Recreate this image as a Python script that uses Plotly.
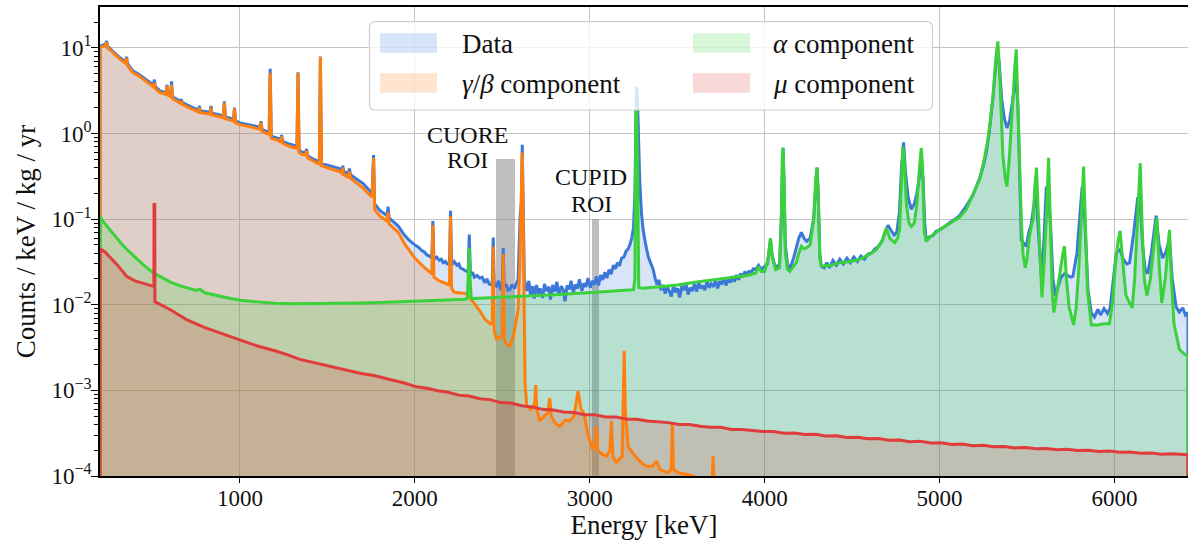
import math
import plotly.graph_objects as go

# ---------------------------------------------------------------------------
# Spectra: (energy [keV], rate [counts / keV / kg / yr])
# ---------------------------------------------------------------------------
data_spectrum = [
    (200, 10.5), (220, 10.8), (232, 11.0), (238, 12.0), (244, 10.4), (257, 9.8), (275, 9.0),
    (295, 8.3), (320, 7.5), (343, 7.0), (348, 6.9), (352, 7.9), (357, 6.6), (370, 6.0),
    (390, 5.35), (415, 5.0), (438, 4.65), (460, 4.3), (486, 3.92), (506, 3.68), (511, 4.26),
    (516, 3.52), (543, 3.15), (577, 3.0), (583, 3.7), (589, 2.93), (604, 2.83), (609, 4.07),
    (614, 2.68), (640, 2.47), (660, 2.37), (665, 2.5), (670, 2.31), (700, 2.15), (730, 2.02),
    (752, 1.92), (763, 1.87), (768, 2.1), (773, 1.84), (800, 1.81), (830, 1.77), (835, 2.1),
    (840, 1.72), (867, 1.68), (905, 1.6), (911, 2.37), (917, 1.56), (940, 1.52), (963, 1.46),
    (969, 2.0), (975, 1.4), (1000, 1.33), (1030, 1.3), (1057, 1.26), (1100, 1.2), (1114, 1.18),
    (1120, 1.39), (1126, 1.12), (1152, 1.06), (1167, 1.03), (1173, 5.68), (1179, 0.93),
    (1210, 0.89), (1232, 0.85), (1238, 0.96), (1244, 0.81), (1267, 0.77), (1290, 0.74),
    (1326, 0.71), (1332, 5.2), (1338, 0.64), (1352, 0.61), (1375, 0.6), (1381, 0.66),
    (1387, 0.55), (1419, 0.5), (1440, 0.48), (1454, 0.47), (1460, 7.9), (1466, 0.45),
    (1495, 0.43), (1530, 0.41), (1571, 0.39), (1583, 0.37), (1588, 0.42), (1593, 0.36),
    (1619, 0.34), (1626, 0.39), (1632, 0.33), (1660, 0.3), (1705, 0.26), (1733, 0.225),
    (1756, 0.2), (1764, 0.56), (1770, 0.15), (1800, 0.126), (1840, 0.11), (1847, 0.14),
    (1853, 0.103), (1880, 0.092), (1905, 0.083), (1940, 0.065), (1970, 0.056), (2000, 0.05),
    (2020, 0.047), (2040, 0.043), (2055, 0.041), (2070, 0.038), (2085, 0.037), (2097, 0.035),
    (2103, 0.095), (2109, 0.034), (2125, 0.036), (2140, 0.033), (2152, 0.034), (2162, 0.031),
    (2175, 0.032), (2185, 0.03), (2198, 0.03), (2204, 0.125), (2210, 0.029), (2225, 0.032),
    (2240, 0.029), (2252, 0.03), (2260, 0.027), (2275, 0.026), (2290, 0.025), (2305, 0.024),
    (2311, 0.066), (2318, 0.022), (2330, 0.024), (2340, 0.021), (2355, 0.022), (2371, 0.0205),
    (2385, 0.021), (2400, 0.018), (2412, 0.02), (2425, 0.0175), (2442, 0.017), (2448, 0.061),
    (2454, 0.017), (2467, 0.0164), (2478, 0.019), (2490, 0.0155), (2499, 0.016), (2505, 0.046),
    (2511, 0.016), (2522, 0.0175), (2532, 0.0148), (2543, 0.015), (2555, 0.0172), (2570, 0.0155),
    (2590, 0.02), (2602, 0.11), (2609, 0.16), (2614, 0.74), (2619, 0.16), (2626, 0.02),
    (2640, 0.0145), (2652, 0.019), (2661, 0.013), (2674, 0.0165), (2683, 0.0118), (2695, 0.017),
    (2707, 0.0135), (2716, 0.0155), (2730, 0.012), (2741, 0.0175), (2752, 0.0145),
    (2766, 0.0162), (2775, 0.0115), (2788, 0.017), (2800, 0.0142), (2812, 0.0185),
    (2823, 0.0128), (2837, 0.0165), (2849, 0.0148), (2858, 0.011), (2870, 0.0168),
    (2884, 0.0152), (2893, 0.019), (2906, 0.0138), (2918, 0.0172), (2930, 0.0155),
    (2941, 0.0198), (2955, 0.0145), (2966, 0.0178), (2978, 0.0162), (2990, 0.0205),
    (3003, 0.0158), (3014, 0.019), (3027, 0.0172), (3038, 0.0215), (3050, 0.0168),
    (3062, 0.0222), (3074, 0.0195), (3086, 0.024), (3098, 0.0205), (3110, 0.0258),
    (3122, 0.0228), (3135, 0.029), (3147, 0.0262), (3158, 0.031), (3170, 0.0285), (3182, 0.035),
    (3195, 0.036), (3207, 0.042), (3220, 0.045), (3229, 0.05), (3240, 0.06), (3250, 0.08),
    (3258, 0.2), (3264, 1.5), (3268, 3.5), (3272, 3.0), (3278, 1.0), (3285, 0.3), (3295, 0.12),
    (3305, 0.075), (3320, 0.05), (3335, 0.036), (3350, 0.03), (3362, 0.026), (3372, 0.021),
    (3384, 0.0172), (3396, 0.0195), (3407, 0.0148), (3420, 0.017), (3431, 0.0135),
    (3444, 0.0162), (3455, 0.0145), (3466, 0.0125), (3479, 0.0168), (3490, 0.014),
    (3503, 0.0155), (3514, 0.0122), (3527, 0.0165), (3538, 0.0148), (3551, 0.0172),
    (3562, 0.0132), (3575, 0.0158), (3587, 0.0145), (3598, 0.0175), (3611, 0.0142),
    (3622, 0.0182), (3635, 0.0155), (3647, 0.0168), (3658, 0.0148), (3671, 0.019),
    (3683, 0.0158), (3694, 0.0175), (3707, 0.0162), (3718, 0.0195), (3731, 0.0155),
    (3743, 0.0188), (3754, 0.0172), (3767, 0.0205), (3779, 0.0168), (3790, 0.0198),
    (3803, 0.0182), (3815, 0.0215), (3826, 0.0185), (3839, 0.0222), (3851, 0.0195),
    (3862, 0.0232), (3875, 0.021), (3887, 0.0245), (3898, 0.0215), (3911, 0.025),
    (3923, 0.0232), (3934, 0.0262), (3950, 0.026), (3965, 0.029), (3980, 0.026), (4000, 0.028),
    (4015, 0.03), (4027, 0.045), (4033, 0.058), (4040, 0.04), (4055, 0.03), (4067, 0.027),
    (4085, 0.03), (4095, 0.1), (4100, 0.5), (4105, 0.68), (4110, 0.3), (4118, 0.05),
    (4130, 0.03), (4143, 0.026), (4165, 0.035), (4180, 0.045), (4195, 0.06), (4210, 0.07),
    (4225, 0.06), (4240, 0.055), (4260, 0.06), (4280, 0.1), (4292, 0.3), (4299, 0.40),
    (4306, 0.2), (4315, 0.04), (4324, 0.028), (4340, 0.027), (4355, 0.031), (4370, 0.027),
    (4390, 0.033), (4410, 0.029), (4429, 0.034), (4450, 0.03), (4470, 0.035), (4490, 0.031),
    (4510, 0.036), (4530, 0.032), (4550, 0.037), (4570, 0.034), (4590, 0.039), (4610, 0.04),
    (4630, 0.045), (4650, 0.048), (4670, 0.055), (4690, 0.07), (4705, 0.085), (4720, 0.075),
    (4740, 0.065), (4755, 0.07), (4770, 0.12), (4782, 0.4), (4794, 0.79), (4805, 0.35),
    (4820, 0.18), (4838, 0.13), (4855, 0.15), (4870, 0.2), (4885, 0.35), (4896, 0.45),
    (4905, 0.3), (4915, 0.09), (4924, 0.055), (4940, 0.062), (4960, 0.064), (4980, 0.072),
    (5000, 0.075), (5030, 0.082), (5060, 0.092), (5090, 0.1), (5114, 0.11), (5150, 0.14),
    (5190, 0.19), (5229, 0.3), (5250, 0.42), (5267, 0.6), (5285, 1.1), (5305, 2.6),
    (5320, 6.0), (5330, 9.6), (5340, 7.0), (5355, 2.5), (5370, 1.5), (5385, 1.16), (5400, 1.4),
    (5415, 2.2), (5428, 3.5), (5438, 4.7), (5448, 2.0), (5458, 0.3), (5467, 0.057),
    (5495, 0.048), (5510, 0.07), (5524, 0.088), (5540, 0.15), (5548, 0.24), (5560, 0.1),
    (5575, 0.03), (5581, 0.022), (5595, 0.05), (5610, 0.24), (5623, 0.2), (5635, 0.08),
    (5648, 0.02), (5663, 0.0127), (5680, 0.017), (5695, 0.021), (5714, 0.023), (5730, 0.022),
    (5750, 0.021), (5762, 0.0215), (5785, 0.04), (5800, 0.1), (5815, 0.24), (5823, 0.2),
    (5835, 0.06), (5848, 0.015), (5867, 0.0081), (5885, 0.0072), (5905, 0.0088), (5920, 0.0076),
    (5940, 0.009), (5960, 0.0079), (5975, 0.0092), (5995, 0.02), (6010, 0.04), (6032, 0.044),
    (6050, 0.034), (6070, 0.03), (6086, 0.031), (6110, 0.07), (6133, 0.18), (6147, 0.15),
    (6160, 0.05), (6175, 0.026), (6190, 0.023), (6210, 0.04), (6238, 0.11), (6255, 0.05),
    (6275, 0.035), (6295, 0.042), (6314, 0.06), (6330, 0.02), (6352, 0.0095), (6370, 0.0082),
    (6390, 0.0092), (6405, 0.0076), (6420, 0.0081),
]

gamma_beta_spectrum = [
    (200, 10.2), (220, 10.4), (232, 10.6), (238, 11.6), (244, 10.0), (257, 9.5), (275, 8.7),
    (295, 8.0), (320, 7.2), (343, 6.7), (348, 6.6), (352, 7.6), (357, 6.3), (370, 5.7),
    (390, 5.1), (415, 4.8), (438, 4.45), (460, 4.1), (486, 3.75), (506, 3.5), (511, 3.9),
    (516, 3.35), (543, 3.0), (577, 2.87), (583, 3.6), (589, 2.8), (604, 2.7), (609, 3.7),
    (614, 2.55), (640, 2.35), (660, 2.25), (665, 2.4), (670, 2.2), (700, 2.05), (730, 1.92),
    (752, 1.82), (763, 1.78), (768, 2.0), (773, 1.75), (800, 1.72), (830, 1.68), (835, 2.0),
    (840, 1.64), (867, 1.6), (905, 1.52), (911, 2.3), (917, 1.48), (940, 1.44), (963, 1.39),
    (969, 1.95), (975, 1.33), (1000, 1.27), (1030, 1.24), (1057, 1.2), (1100, 1.14),
    (1114, 1.12), (1120, 1.35), (1126, 1.06), (1152, 1.0), (1167, 0.98), (1173, 5.1),
    (1179, 0.88), (1210, 0.84), (1232, 0.8), (1238, 0.92), (1244, 0.77), (1267, 0.73),
    (1290, 0.7), (1326, 0.67), (1332, 5.1), (1338, 0.6), (1352, 0.57), (1375, 0.56),
    (1381, 0.63), (1387, 0.52), (1419, 0.47), (1440, 0.45), (1454, 0.44), (1460, 7.8),
    (1466, 0.42), (1495, 0.40), (1530, 0.38), (1571, 0.36), (1583, 0.34), (1588, 0.40),
    (1593, 0.33), (1619, 0.31), (1626, 0.36), (1632, 0.30), (1660, 0.27), (1705, 0.23),
    (1733, 0.2), (1756, 0.18), (1764, 0.52), (1770, 0.13), (1800, 0.108), (1840, 0.095),
    (1847, 0.12), (1853, 0.088), (1880, 0.078), (1905, 0.07), (1940, 0.052), (1970, 0.042),
    (2000, 0.035), (2040, 0.029), (2070, 0.026), (2097, 0.023), (2103, 0.085), (2109, 0.021),
    (2140, 0.019), (2180, 0.0175), (2198, 0.017), (2204, 0.108), (2210, 0.0155), (2225, 0.014),
    (2260, 0.0138), (2295, 0.0135), (2330, 0.011), (2371, 0.0085), (2400, 0.0068),
    (2430, 0.006), (2442, 0.006), (2448, 0.048), (2454, 0.005), (2467, 0.004), (2490, 0.0042),
    (2499, 0.0045), (2505, 0.039), (2511, 0.004), (2525, 0.0034), (2543, 0.0033),
    (2565, 0.0045), (2590, 0.0088), (2600, 0.03), (2605, 0.1), (2609, 0.12), (2614, 0.6),
    (2619, 0.12), (2624, 0.01), (2630, 0.0012), (2640, 0.00066), (2660, 0.0006),
    (2685, 0.0007), (2691, 0.00115), (2697, 0.0006), (2714, 0.00044), (2740, 0.0005),
    (2760, 0.00055), (2771, 0.00081), (2780, 0.0005), (2800, 0.00042), (2829, 0.00038),
    (2860, 0.00045), (2886, 0.00044), (2910, 0.0005), (2933, 0.00098), (2950, 0.0006),
    (2965, 0.00055), (2990, 0.0003), (3019, 0.0002), (3030, 0.00025), (3038, 0.00038),
    (3045, 0.0002), (3070, 0.00018), (3095, 0.00017), (3115, 0.0002), (3124, 0.00044),
    (3132, 0.00017), (3152, 0.000145), (3185, 0.00017), (3192, 0.0009), (3197, 0.0029),
    (3203, 0.0006), (3219, 0.00022), (3260, 0.00017), (3300, 0.00014), (3324, 0.00013),
    (3360, 0.00013), (3381, 0.00015), (3400, 0.00012), (3420, 0.000114), (3450, 0.00011),
    (3466, 0.00012), (3472, 0.00042), (3478, 0.00012), (3500, 0.00011), (3550, 0.000105),
    (3590, 0.0001), (3630, 0.00009), (3695, 0.00008), (3700, 0.00009), (3705, 0.00017),
    (3711, 0.00008), (3730, 0.00006), (6420, 0.00003),
]

alpha_spectrum = [
    (200, 0.107), (225, 0.09), (250, 0.078), (275, 0.067), (300, 0.058), (325, 0.051),
    (350, 0.045), (375, 0.04), (400, 0.036), (450, 0.029), (500, 0.024), (550, 0.021),
    (600, 0.0185), (650, 0.0168), (700, 0.0156), (750, 0.0147), (770, 0.0152), (800, 0.0138),
    (900, 0.0124), (1000, 0.0113), (1100, 0.0108), (1200, 0.0104), (1300, 0.0103),
    (1400, 0.0103), (1500, 0.0104), (1600, 0.0104), (1700, 0.0105), (1800, 0.0106),
    (1900, 0.0108), (2000, 0.0109), (2100, 0.011), (2200, 0.0112), (2290, 0.0116),
    (2300, 0.012), (2306, 0.03), (2311, 0.046), (2316, 0.02), (2322, 0.0118), (2400, 0.012),
    (2500, 0.0122), (2600, 0.0125), (2700, 0.0128), (2800, 0.0131), (2900, 0.0134),
    (3000, 0.0138), (3100, 0.0143), (3200, 0.0148), (3250, 0.015), (3258, 0.02), (3263, 1.8),
    (3268, 2.07), (3273, 0.5), (3280, 0.016), (3300, 0.0156), (3400, 0.0162), (3500, 0.017),
    (3600, 0.0183), (3700, 0.0195), (3800, 0.0205), (3900, 0.022), (3950, 0.0235),
    (3965, 0.028), (3980, 0.0245), (4000, 0.0245), (4020, 0.035), (4033, 0.06), (4045, 0.035),
    (4063, 0.0257), (4085, 0.027), (4095, 0.1), (4100, 0.5), (4105, 0.68), (4110, 0.3),
    (4118, 0.04), (4130, 0.026), (4143, 0.0245), (4165, 0.028), (4181, 0.031), (4195, 0.04),
    (4210, 0.048), (4225, 0.045), (4238, 0.046), (4260, 0.05), (4280, 0.1), (4292, 0.3),
    (4299, 0.40), (4306, 0.2), (4315, 0.035), (4324, 0.0282), (4380, 0.029), (4429, 0.031),
    (4490, 0.032), (4543, 0.034), (4600, 0.039), (4638, 0.044), (4670, 0.055), (4695, 0.079),
    (4715, 0.06), (4743, 0.053), (4760, 0.06), (4771, 0.075), (4782, 0.35), (4790, 0.7),
    (4797, 0.5), (4810, 0.15), (4825, 0.09), (4838, 0.082), (4855, 0.09), (4870, 0.15),
    (4885, 0.4), (4895, 0.68), (4903, 0.4), (4912, 0.07), (4924, 0.055), (4950, 0.063),
    (5000, 0.075), (5076, 0.094), (5114, 0.105), (5152, 0.13), (5190, 0.19), (5229, 0.29),
    (5255, 0.5), (5276, 0.85), (5290, 1.4), (5305, 2.7), (5320, 7.0), (5333, 11.9),
    (5345, 4.0), (5362, 0.54), (5375, 0.3), (5385, 0.24), (5398, 0.5), (5410, 1.5),
    (5419, 2.5), (5430, 6.0), (5438, 9.6), (5448, 2.0), (5458, 0.3), (5467, 0.1),
    (5476, 0.04), (5490, 0.027), (5500, 0.035), (5512, 0.06), (5524, 0.082), (5535, 0.1),
    (5545, 0.25), (5554, 0.40), (5562, 0.15), (5572, 0.04), (5585, 0.0122), (5597, 0.03),
    (5610, 0.1), (5623, 0.52), (5633, 0.1), (5643, 0.015), (5653, 0.0081), (5672, 0.015),
    (5690, 0.025), (5705, 0.04), (5714, 0.048), (5725, 0.02), (5740, 0.0095), (5766, 0.0058),
    (5780, 0.009), (5795, 0.025), (5810, 0.1), (5823, 0.41), (5833, 0.1), (5845, 0.015),
    (5867, 0.0058), (5900, 0.0058), (5940, 0.006), (5971, 0.006), (5990, 0.011),
    (6005, 0.03), (6020, 0.055), (6032, 0.073), (6045, 0.035), (6065, 0.013), (6085, 0.0105),
    (6101, 0.0092), (6115, 0.02), (6130, 0.1), (6147, 0.45), (6158, 0.08), (6170, 0.02),
    (6185, 0.0128), (6205, 0.02), (6225, 0.05), (6242, 0.104), (6255, 0.03), (6270, 0.0105),
    (6290, 0.02), (6305, 0.05), (6314, 0.075), (6325, 0.02), (6340, 0.006), (6371, 0.003),
    (6395, 0.0027), (6420, 0.0025),
]

mu_spectrum = [
    (200, 0.045), (230, 0.041), (257, 0.036), (300, 0.029), (352, 0.0215), (400, 0.019),
    (467, 0.0173), (505, 0.0162), (508, 0.0164), (509, 0.148), (513, 0.148), (514, 0.0108),
    (524, 0.0106), (600, 0.0088), (695, 0.0067), (800, 0.0054), (900, 0.0046), (1000, 0.0039),
    (1100, 0.0033), (1200, 0.0029), (1270, 0.00262), (1343, 0.0023), (1420, 0.00212),
    (1514, 0.0019), (1580, 0.00178), (1640, 0.00168), (1700, 0.00156), (1760, 0.0015),
    (1820, 0.0014), (1880, 0.00133), (1940, 0.00122), (2010, 0.0011), (2070, 0.00106),
    (2130, 0.00099), (2190, 0.00095), (2250, 0.00088), (2310, 0.00086), (2370, 0.0008),
    (2430, 0.00078), (2490, 0.00072), (2550, 0.00071), (2610, 0.00066), (2670, 0.00064),
    (2730, 0.0006), (2790, 0.00059), (2850, 0.00056), (2910, 0.00055), (2970, 0.00052),
    (3030, 0.00052), (3090, 0.00049), (3150, 0.00049), (3210, 0.00046), (3270, 0.00046),
    (3330, 0.00044), (3390, 0.00043), (3450, 0.00042), (3510, 0.0004), (3570, 0.0004),
    (3630, 0.00038), (3690, 0.00037), (3750, 0.00037), (3810, 0.00035), (3870, 0.00035),
    (3930, 0.00034), (3990, 0.00033), (4050, 0.00033), (4110, 0.000315), (4170, 0.000318),
    (4230, 0.000305), (4290, 0.000308), (4350, 0.000293), (4410, 0.000295), (4470, 0.000282),
    (4530, 0.000284), (4590, 0.000272), (4650, 0.000274), (4710, 0.000262), (4770, 0.000264),
    (4830, 0.000252), (4890, 0.000254), (4950, 0.000243), (5010, 0.000245), (5070, 0.000234),
    (5130, 0.000236), (5190, 0.000226), (5250, 0.000228), (5310, 0.00022), (5370, 0.000221),
    (5430, 0.000213), (5490, 0.000215), (5550, 0.000208), (5610, 0.00021), (5670, 0.000203),
    (5730, 0.000205), (5790, 0.000198), (5850, 0.0002), (5910, 0.000193), (5970, 0.000196),
    (6030, 0.000189), (6090, 0.000191), (6150, 0.000184), (6210, 0.000186), (6270, 0.00018),
    (6330, 0.000182), (6420, 0.000177),
]

# Regions of interest: name, centre [keV], width [keV], height
roi_names = ["CUORE", "CUPID"]
roi_centres = [2520, 3034]
roi_widths = [110, 40]
roi_heights = [0.5, 0.1]

x_tick_values = [1000, 2000, 3000, 4000, 5000, 6000]
y_tick_exponents = [-4, -3, -2, -1, 0, 1]

# ---------------------------------------------------------------------------
X_RANGE = [200, 6420]
Y_MAX = 30.0
FLOOR = 1e-6
FONT = "Liberation Serif"
LINE_W = 3.0

components = [
    ("Data", data_spectrum, (59, 120, 216)),
    ("γ/β component", gamma_beta_spectrum, (255, 127, 14)),
    ("α component", alpha_spectrum, (58, 209, 58)),
    ("μ component", mu_spectrum, (224, 60, 60)),
]


def rgba(c, a):
    return f"rgba({c[0]},{c[1]},{c[2]},{a})"


def closed_outline(spectrum):
    energies = [e for e, _ in spectrum]
    rates = [r for _, r in spectrum]
    return ([energies[0]] + energies + [energies[-1]],
            [FLOOR] + rates + [FLOOR])


fig = go.Figure()

# shaded ROI bands
fig.add_trace(go.Bar(
    x=roi_centres, y=roi_heights, width=roi_widths, base=FLOOR,
    marker=dict(color="rgba(128,128,128,0.5)", line=dict(width=0)),
    hoverinfo="skip", showlegend=False,
))

# translucent fills under each spectrum
for name, spec, col in components:
    xs, ys = closed_outline(spec)
    fig.add_trace(go.Scatter(
        x=xs, y=ys, mode="lines", fill="toself", fillcolor=rgba(col, 0.2),
        line=dict(width=0), hoverinfo="skip", showlegend=False,
    ))

# outlines on top
for name, spec, col in components:
    xs, ys = closed_outline(spec)
    fig.add_trace(go.Scatter(
        x=xs, y=ys, mode="lines", name=name,
        line=dict(color=rgba(col, 1), width=LINE_W), showlegend=False,
    ))

# ROI labels (two lines each)
label_lines = [
    ("CUORE", 2300, 0.97), ("ROI", 2300, 0.485),
    ("CUPID", 3009, 0.31), ("ROI", 3009, 0.152),
]
for text, xe, yv in label_lines:
    fig.add_annotation(x=xe, y=math.log10(yv), xref="x", yref="y", text=text,
                       showarrow=False, xanchor="center", yanchor="middle",
                       font=dict(family=FONT, size=24, color="#111111"))

# ---------------------------------------------------------------------------
# Legend (two columns inside a rounded frame)
W_PLOT, H_PLOT, L_M, T_M = 1088, 469, 100, 7


def px_to_paper(px, py):
    return (px - L_M) / W_PLOT, (T_M + H_PLOT - py) / H_PLOT


def rounded_rect(px0, py0, px1, py1, r):
    x0, y1 = px_to_paper(px0, py0)
    x1, y0 = px_to_paper(px1, py1)
    rx, ry = r / W_PLOT, r / H_PLOT
    return (f"M{x0 + rx},{y0} L{x1 - rx},{y0} Q{x1},{y0} {x1},{y0 + ry} "
            f"L{x1},{y1 - ry} Q{x1},{y1} {x1 - rx},{y1} L{x0 + rx},{y1} "
            f"Q{x0},{y1} {x0},{y1 - ry} L{x0},{y0 + ry} Q{x0},{y0} {x0 + rx},{y0} Z")


fig.add_shape(type="path", xref="paper", yref="paper",
              path=rounded_rect(369.5, 21.7, 932.5, 110, 6),
              fillcolor="rgba(255,255,255,0.8)", line=dict(color="#d0d0d0", width=1.2),
              layer="above")

legend_slots = [  # patch left, row centre y, text left
    (380, 43, 460), (380, 83, 460), (693, 43, 771), (693, 83, 771),
]
legend_labels = ["Data", "<i>γ</i>/<i>β</i> component",
                 "<i>α</i> component", "<i>μ</i> component"]
for (pxl, pyc, ptx), label, (_, _, col) in zip(legend_slots, legend_labels, components):
    x0, y1 = px_to_paper(pxl, pyc - 9.7)
    x1, y0 = px_to_paper(pxl + 57, pyc + 9.7)
    fig.add_shape(type="rect", xref="paper", yref="paper", x0=x0, x1=x1, y0=y0, y1=y1,
                  fillcolor=rgba(col, 0.2), line=dict(width=0), layer="above")
    tx, ty = px_to_paper(ptx, pyc + 1)
    fig.add_annotation(x=tx, y=ty, xref="paper", yref="paper", text=label,
                       showarrow=False, xanchor="left", yanchor="middle",
                       font=dict(family=FONT, size=27, color="#111111"))

# ---------------------------------------------------------------------------
minor_vals = [k * 10.0 ** e for e in range(-4, 2) for k in range(2, 10) if k * 10.0 ** e < Y_MAX]

fig.update_layout(
    width=1188, height=540,
    margin=dict(l=L_M, r=0, t=T_M, b=540 - T_M - H_PLOT),
    plot_bgcolor="white", paper_bgcolor="white",
    font=dict(family=FONT, size=23, color="#111111"),
    showlegend=False, bargap=0,
)
fig.update_xaxes(
    range=X_RANGE, tickvals=x_tick_values, ticks="outside", ticklen=5, tickwidth=1.2,
    tickcolor="black", showline=True, linecolor="black", linewidth=1.5, mirror=True,
    showgrid=True, gridcolor="#c4c4c4", gridwidth=1.3, zeroline=False,
    tickfont=dict(family=FONT, size=23), ticklabelstandoff=-4,
    title=dict(text="Energy [keV]", font=dict(family=FONT, size=27), standoff=6),
)
fig.update_yaxes(
    type="log", range=[-4, math.log10(Y_MAX)],
    tickvals=[10.0 ** e for e in y_tick_exponents],
    ticktext=[f"10<sup>{str(e).replace('-', '−')}</sup>" for e in y_tick_exponents],
    ticks="outside", ticklen=7, tickwidth=1.2, tickcolor="black",
    minor=dict(tickvals=minor_vals, ticks="outside", ticklen=4, tickwidth=1,
               tickcolor="black", showgrid=False),
    showline=True, linecolor="black", linewidth=1.5, mirror=False,
    showgrid=True, gridcolor="#c4c4c4", gridwidth=1.3, zeroline=False,
    tickfont=dict(family=FONT, size=23), ticklabelstandoff=-5,
    title=dict(text="Counts / keV / kg / yr", font=dict(family=FONT, size=27), standoff=8),
)

fig.write_html("out.html")
